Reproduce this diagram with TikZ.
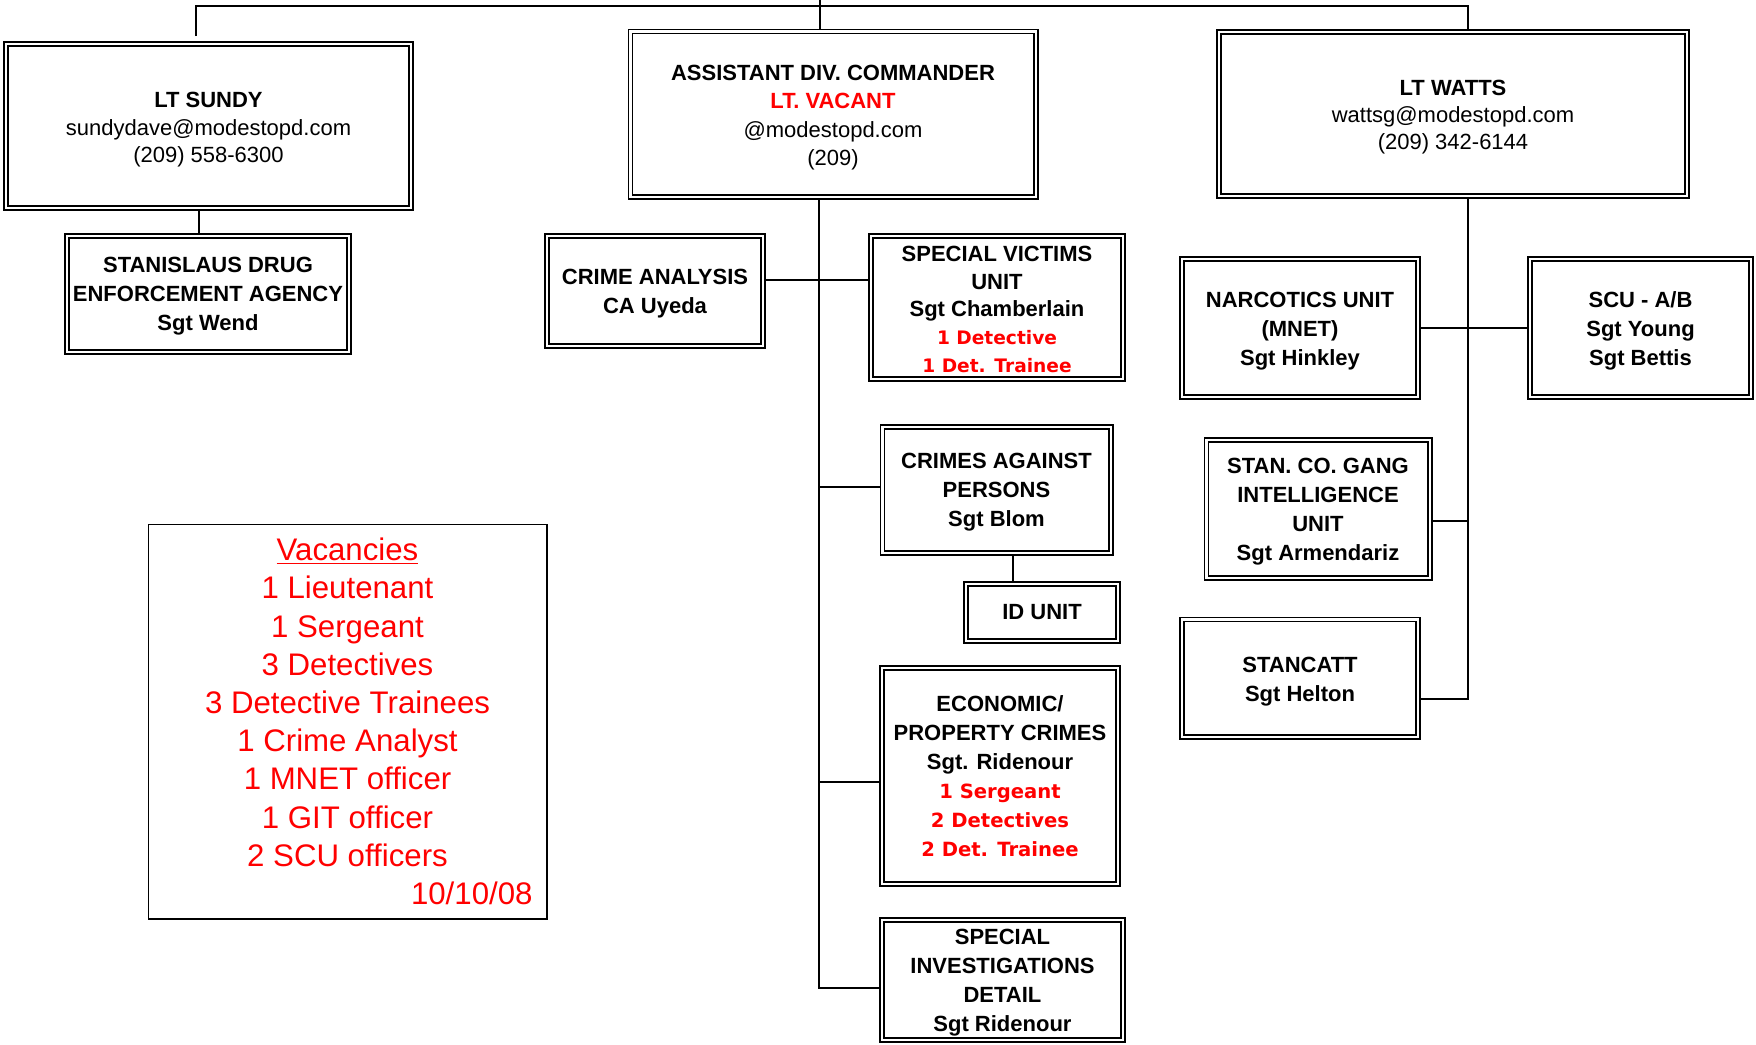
\documentclass[tikz,border=0pt]{standalone}
\usepackage{fontspec}
\setmainfont{Liberation Sans}
\newfontfamily\verd{DejaVu Sans}
\definecolor{vred}{RGB}{255,0,0}
\newcommand\redv[2]{{\verd\bfseries\fontsize{#1}{14}\selectfont\color{vred}#2}}
\newcommand\tp[1]{\rule{0pt}{#1pt}}
\begin{document}
\begin{tikzpicture}[x=0.5pt,y=-0.5pt,
  box/.style={draw, line width=0.8pt, double, double distance=1.2pt, outer sep=1.4pt, inner sep=0pt, align=center},
  bt/.style={font=\bfseries\fontsize{11}{14.5}\selectfont},
  et/.style={font=\fontsize{11}{13.7}\selectfont},
  conn/.style={line width=0.9pt}]
\useasboundingbox (0,0) rectangle (1756,1044);

% top row
\node[box,et,minimum width=202.7pt,minimum height=82.2pt] (sundy) at (208.5,126)
  {\tp{11.3}\textbf{LT SUNDY}\\sundydave@modestopd.com\\(209) 558-6300};
\node[box,font=\fontsize{11}{14.2}\selectfont,minimum width=202.7pt,minimum height=82.7pt] (adc) at (833,114)
  {\tp{11.3}\textbf{ASSISTANT DIV. COMMANDER}\\\textcolor{vred}{\textbf{LT. VACANT}}\\@modestopd.com\\(209)};
\node[box,et,minimum width=234.2pt,minimum height=82.2pt] (watts) at (1453,114)
  {\tp{10.7}\textbf{LT WATTS}\\wattsg@modestopd.com\\(209) 342-6144};

% left branch
\node[box,bt,minimum width=141.2pt,minimum height=58.2pt] (drug) at (208,294)
  {\tp{9.6}STANISLAUS DRUG\\ENFORCEMENT AGENCY\\Sgt Wend};

% centre branch
\node[box,bt,minimum width=108.2pt,minimum height=55.2pt] (ca) at (655,291)
  {\tp{10.1}CRIME ANALYSIS\\CA Uyeda};
\node[box,font=\bfseries\fontsize{11}{13.9}\selectfont,minimum width=126.2pt,minimum height=71.7pt] (svu) at (997,307.5)
  {\tp{9.6}SPECIAL VICTIMS\\UNIT\\Sgt Chamberlain\\\redv{9.3}{1 Detective}\\\redv{9.3}{1 Det. Trainee}};
\node[box,bt,minimum width=114.2pt,minimum height=63.2pt] (cap) at (996.5,490)
  {\tp{10.1}CRIMES AGAINST\\PERSONS\\Sgt Blom};
\node[box,bt,minimum width=76.2pt,minimum height=28.7pt] (id) at (1042,612.5)
  {ID UNIT};
\node[box,bt,minimum width=118.2pt,minimum height=108.2pt] (econ) at (1000,776)
  {ECONOMIC/\\PROPERTY CRIMES\\Sgt. Ridenour\\\redv{9.8}{1 Sergeant}\\\redv{9.8}{2 Detectives}\\\redv{9.8}{2 Det. Trainee}};
\node[box,bt,minimum width=120.7pt,minimum height=60.2pt] (sid) at (1002.5,980)
  {\tp{10.1}SPECIAL\\INVESTIGATIONS\\DETAIL\\Sgt Ridenour};

% right branch
\node[box,bt,minimum width=118.2pt,minimum height=69.2pt] (narc) at (1300,328)
  {\tp{11.3}NARCOTICS UNIT\\(MNET)\\Sgt Hinkley};
\node[box,bt,minimum width=110.7pt,minimum height=69.2pt] (scu) at (1640.5,328)
  {\tp{10.7}SCU - A/B\\Sgt Young\\Sgt Bettis};
\node[box,bt,minimum width=111.7pt,minimum height=69.2pt] (gang) at (1318,509)
  {\tp{10.7}STAN. CO. GANG\\INTELLIGENCE\\UNIT\\Sgt Armendariz};
\node[box,bt,minimum width=118.2pt,minimum height=58.7pt] (stan) at (1300,678)
  {\tp{11.3}STANCATT\\Sgt Helton};

% vacancies
\node[draw, line width=0.8pt, minimum width=199.2pt, minimum height=197.2pt, inner sep=0pt,
  align=center, text=vred, font=\fontsize{15.6}{19.1}\selectfont] (vac) at (347.5,721.5)
  {\underline{Vacancies}\\1 Lieutenant\\1 Sergeant\\3 Detectives\\3 Detective Trainees\\1 Crime Analyst\\1 MNET officer\\1 GIT officer\\2 SCU officers\\\makebox[185pt][r]{10/10/08}};

% connectors
\coordinate (tl) at (196,6);
\coordinate (tr) at (1468,6);
\coordinate (tls) at (196,36);
\draw[conn] (tls) -- (tl) -- (tr) -- (tr |- watts.north);
\coordinate (ctop) at (820,0);
\draw[conn] (ctop) -- (ctop |- adc.north);
\coordinate (sd) at (199,220);
\draw[conn] (sd |- sundy.south) -- (sd |- drug.north);
\coordinate (spine) at (819,988);
\draw[conn] (spine |- adc.south) -- (spine) -- (spine -| sid.west);
\coordinate (h1) at (819,280);
\draw[conn] (h1 -| ca.east) -- (h1 -| svu.west);
\coordinate (h2) at (819,487);
\draw[conn] (h2) -- (h2 -| cap.west);
\coordinate (h3) at (819,782);
\draw[conn] (h3) -- (h3 -| econ.west);
\coordinate (idc) at (1013,570);
\draw[conn] (idc |- cap.south) -- (idc |- id.north);
\coordinate (wsp) at (1468,700);
\draw[conn] (wsp |- watts.south) -- (wsp);
\draw[conn] (narc.east) -- (scu.west);
\coordinate (h4) at (1468,521);
\draw[conn] (h4 -| gang.east) -- (h4);
\coordinate (h5) at (1468,699);
\draw[conn] (h5 -| stan.east) -- (h5);
\end{tikzpicture}
\end{document}
